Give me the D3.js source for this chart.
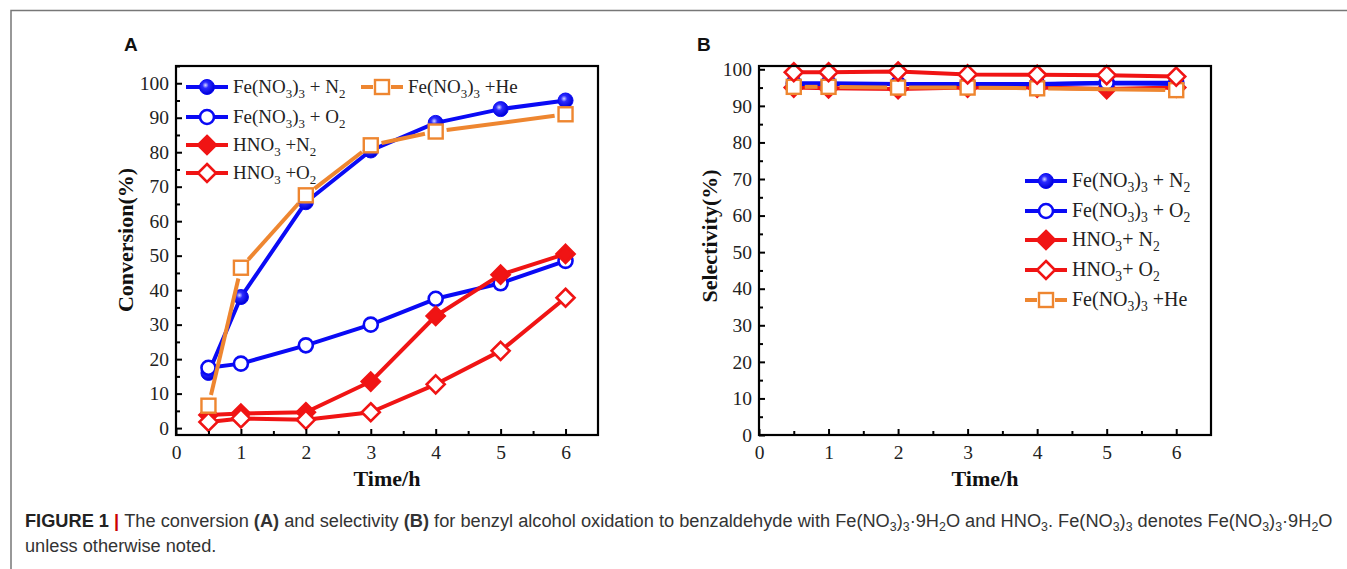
<!DOCTYPE html>
<html>
<head>
<meta charset="utf-8">
<script src="https://cdn.jsdelivr.net/npm/d3@7"></script>
<style>
  body { margin: 0; background: #fff; }
  svg { display: block; }
  .domain { display: none; }
</style>
</head>
<body>
<svg id="fig" width="1347" height="569"></svg>
<script>
// ---- data ----
var times = [0.5, 1, 2, 3, 4, 5, 6];
var timesHe = [0.5, 1, 2, 3, 4, 6];   // no He point at 5 h

// conversion (%) - panel A
var convFeN2  = [16, 38, 65.5, 80.5, 88.5, 92.5, 95];
var convFeO2  = [17.5, 18.7, 24, 30, 37.5, 42, 48.5];
var convHNO3N2 = [3.8, 4.2, 4.6, 13.5, 32.5, 44.5, 50.5];
var convHNO3O2 = [1.8, 2.8, 2.4, 4.6, 12.7, 22.4, 37.8];
var convFeHe  = [6.5, 46.5, 67.5, 82, 86, 91];

// selectivity (%) - panel B
var selFeN2  = [96, 96, 96, 96, 95.9, 96.2, 96];
var selFeO2  = [96.2, 96.2, 96, 96, 96, 96.3, 96.3];
var selHNO3N2 = [95, 94.8, 94.6, 95, 95, 94.6, 95];
var selHNO3O2 = [99.2, 99.2, 99.4, 98.6, 98.5, 98.4, 98.0];
var selFeHe  = [95.2, 95.2, 95.0, 95.0, 94.8, 94.3];

var yTicks = [0, 10, 20, 30, 40, 50, 60, 70, 80, 90, 100];
var xTicks = [0, 1, 2, 3, 4, 5, 6];

// series labels, "_x" = subscript
var labFeN2 = "Fe(NO_3)_3 + N_2";
var labFeO2 = "Fe(NO_3)_3 + O_2";
var labFeHe = "Fe(NO_3)_3 +He";

var BLUE = "#0a0af5", RED = "#f01414", ORANGE = "#ee8630";
var serif = "'Liberation Serif', 'Times New Roman', serif";

var svg = d3.select("#fig");
var defs = svg.append("defs");
var grad = defs.append("radialGradient").attr("id", "ballBlue")
    .attr("cx", "40%").attr("cy", "38%").attr("r", "60%");
grad.append("stop").attr("offset", "0%").attr("stop-color", "#d8d8ff");
grad.append("stop").attr("offset", "35%").attr("stop-color", "#2b2bff");
grad.append("stop").attr("offset", "100%").attr("stop-color", "#0000d8");

// outer frame of the figure
svg.append("rect").attr("x", 11).attr("y", 10.5).attr("width", 1400).attr("height", 700)
    .attr("fill", "none").attr("stroke", "#777").attr("stroke-width", 1.5);

function subText(sel, str, size, drop) {
    // split on "_d" and put the digit as subscript, next run goes back up
    var parts = str.split(/_(\d)/);
    var back = 0;
    drop = drop || 5;
    parts.forEach(function (p, i) {
        if (p === "") return;
        if (i % 2 === 1) {
            sel.append("tspan").attr("dy", drop).attr("font-size", size * 0.68).text(p);
            back = -drop;
        } else {
            var ts = sel.append("tspan").attr("font-size", size).text(p);
            if (back) { ts.attr("dy", back); back = 0; }
        }
    });
    return back;
}

function drawMarker(g, type, x, y) {
    if (type === "ball") {
        g.append("circle").attr("cx", x).attr("cy", y).attr("r", 7.5)
            .attr("fill", "url(#ballBlue)").attr("stroke", BLUE).attr("stroke-width", 1);
    } else if (type === "ring") {
        g.append("circle").attr("cx", x).attr("cy", y).attr("r", 7)
            .attr("fill", "#fff").attr("stroke", BLUE).attr("stroke-width", 2.6);
    } else if (type === "dia" || type === "diaOpen") {
        var s = 9;
        g.append("path").attr("d", "M" + x + "," + (y - s) + "L" + (x + s) + "," + y + "L" + x + "," + (y + s) + "L" + (x - s) + "," + y + "Z")
            .attr("fill", type === "dia" ? RED : "#fff").attr("stroke", RED).attr("stroke-width", 2.6);
    } else if (type === "sq") {
        g.append("rect").attr("x", x - 7).attr("y", y - 7).attr("width", 14).attr("height", 14)
            .attr("fill", "#fff").attr("stroke", ORANGE).attr("stroke-width", 2.4);
    }
}

function drawPanel(cfg) {
    var x = d3.scaleLinear().domain([0, 6.5]).range([cfg.left, cfg.right]);
    var y = d3.scaleLinear().domain(cfg.yDomain).range([435, 66]);
    var g = svg.append("g");

    // panel letter
    g.append("text").attr("x", cfg.letterX).attr("y", 51).text(cfg.letter)
        .attr("font-family", "'Liberation Sans', Arial, sans-serif").attr("font-weight", "bold")
        .attr("font-size", 19).attr("fill", "#111");

    // series
    cfg.series.forEach(function (s) {
        var pts = s.t.map(function (t, i) { return [x(t), y(s.v[i])]; });
        var sg = g.append("g");
        if (s.gap) {
            // Origin style: line broken around the markers
            for (var i = 0; i < pts.length - 1; i++) {
                var a = pts[i], b = pts[i + 1];
                var dx = b[0] - a[0], dy = b[1] - a[1], L = Math.sqrt(dx * dx + dy * dy);
                if (L < 2 * s.gap) continue;
                var ux = dx / L, uy = dy / L;
                sg.append("line")
                    .attr("x1", a[0] + ux * s.gap).attr("y1", a[1] + uy * s.gap)
                    .attr("x2", b[0] - ux * s.gap).attr("y2", b[1] - uy * s.gap)
                    .attr("stroke", s.color).attr("stroke-width", 4);
            }
        } else {
            sg.append("path").attr("d", d3.line()(pts)).attr("fill", "none")
                .attr("stroke", s.color).attr("stroke-width", 4).attr("stroke-linejoin", "round");
        }
        pts.forEach(function (p) { drawMarker(sg, s.marker, p[0], p[1]); });
    });

    // axes (ticks point inward)
    var yAxis = d3.axisLeft(y).tickValues(yTicks).tickSize(-6).tickPadding(7);
    g.append("g").attr("class", "ax").attr("transform", "translate(" + cfg.left + ",0)").call(yAxis);
    g.append("g").attr("transform", "translate(" + cfg.left + ",0)")
        .call(d3.axisLeft(y).tickValues(yTicks.map(function (d) { return d + 5; }).filter(function (d) { return d <= cfg.yDomain[1]; }))
            .tickSize(-4).tickFormat(""))
        .call(function (a) { a.selectAll("text").remove(); });
    var xAxis = d3.axisBottom(x).tickValues(xTicks).tickFormat(d3.format("d")).tickSize(-6).tickPadding(10);
    g.append("g").attr("class", "ax").attr("transform", "translate(0,435)").call(xAxis);
    g.append("g").attr("transform", "translate(0,435)")
        .call(d3.axisBottom(x).tickValues([0.5, 1.5, 2.5, 3.5, 4.5, 5.5]).tickSize(-4).tickFormat(""))
        .call(function (a) { a.selectAll("text").remove(); });
    g.selectAll(".tick line").attr("stroke", "#000").attr("stroke-width", 2);
    g.selectAll(".ax .tick text").attr("font-family", serif).attr("font-size", 19.5).attr("fill", "#222");

    // frame
    g.append("rect").attr("x", cfg.left).attr("y", 66).attr("width", cfg.right - cfg.left).attr("height", 435 - 66)
        .attr("fill", "none").attr("stroke", "#000").attr("stroke-width", 2.2);

    // axis titles
    g.append("text").attr("x", (cfg.left + cfg.right) / 2).attr("y", 486).attr("text-anchor", "middle")
        .attr("font-family", serif).attr("font-weight", "bold").attr("font-size", 22).attr("fill", "#111")
        .text("Time/h");
    g.append("text").attr("transform", "translate(" + cfg.yTitleX + "," + cfg.yTitleY + ") rotate(-90)")
        .attr("text-anchor", "middle").attr("font-family", serif).attr("font-weight", "bold")
        .attr("font-size", 22).attr("fill", "#111").text(cfg.yTitle);

    // legend
    cfg.legend.forEach(function (l) {
        var lg = g.append("g");
        if (l.gap) {
            lg.append("line").attr("x1", l.x).attr("x2", l.x + 12).attr("y1", l.y).attr("y2", l.y)
                .attr("stroke", l.color).attr("stroke-width", 4);
            lg.append("line").attr("x1", l.x + 30).attr("x2", l.x + 42).attr("y1", l.y).attr("y2", l.y)
                .attr("stroke", l.color).attr("stroke-width", 4);
        } else {
            lg.append("line").attr("x1", l.x).attr("x2", l.x + 42).attr("y1", l.y).attr("y2", l.y)
                .attr("stroke", l.color).attr("stroke-width", 4);
        }
        drawMarker(lg, l.marker, l.x + 21, l.y);
        var t = lg.append("text").attr("x", l.x + 47).attr("y", l.y + 6)
            .attr("font-family", serif).attr("font-size", cfg.legendSize).attr("fill", "#222");
        subText(t, l.text, cfg.legendSize);
    });
}

// ---- panel A ----
drawPanel({
    letter: "A", letterX: 124, left: 176, right: 598, yDomain: [-2, 105], yTitleX: 133, yTitleY: 240,
    yTitle: "Conversion(%)", legendSize: 19,
    series: [
        { t: times, v: convFeN2, color: BLUE, marker: "ball" },
        { t: times, v: convFeO2, color: BLUE, marker: "ring" },
        { t: times, v: convHNO3N2, color: RED, marker: "dia" },
        { t: times, v: convHNO3O2, color: RED, marker: "diaOpen" },
        { t: timesHe, v: convFeHe, color: ORANGE, marker: "sq", gap: 11 }
    ],
    legend: [
        { x: 186, y: 87, color: BLUE, marker: "ball", text: labFeN2 },
        { x: 186, y: 117, color: BLUE, marker: "ring", text: labFeO2 },
        { x: 186, y: 145, color: RED, marker: "dia", text: "HNO_3 +N_2" },
        { x: 186, y: 173, color: RED, marker: "diaOpen", text: "HNO_3 +O_2" },
        { x: 361, y: 87, color: ORANGE, marker: "sq", text: labFeHe, gap: true }
    ]
});

// ---- panel B ----
drawPanel({
    letter: "B", letterX: 697, left: 759, right: 1211, yDomain: [0, 100.9], yTitleX: 717, yTitleY: 236,
    yTitle: "Selectivity(%)", legendSize: 20,
    series: [
        { t: times, v: selHNO3N2, color: RED, marker: "dia" },
        { t: times, v: selFeN2, color: BLUE, marker: "ball" },
        { t: times, v: selFeO2, color: BLUE, marker: "ring" },
        { t: timesHe, v: selFeHe, color: ORANGE, marker: "sq", gap: 11 },
        { t: times, v: selHNO3O2, color: RED, marker: "diaOpen" }
    ],
    legend: [
        { x: 1025, y: 181, color: BLUE, marker: "ball", text: labFeN2 },
        { x: 1025, y: 211, color: BLUE, marker: "ring", text: labFeO2 },
        { x: 1025, y: 240, color: RED, marker: "dia", text: "HNO_3+ N_2" },
        { x: 1025, y: 270, color: RED, marker: "diaOpen", text: "HNO_3+ O_2" },
        { x: 1025, y: 300, color: ORANGE, marker: "sq", text: labFeHe, gap: true }
    ]
});

// ---- caption ----
var sans = "'Liberation Sans', Arial, sans-serif";
var capSize = 19;
var cap1 = svg.append("text").attr("x", 25).attr("y", 527).attr("font-family", sans)
    .attr("font-size", capSize).attr("fill", "#333");
cap1.append("tspan").attr("font-weight", "bold").attr("fill", "#222").text("FIGURE 1 ");
cap1.append("tspan").attr("font-weight", "bold").attr("fill", "#c00").text("| ");
var capParts = [
    ["The conversion ", 0], ["(A)", 1], [" and selectivity ", 0], ["(B)", 1],
    [" for benzyl alcohol oxidation to benzaldehyde with Fe(NO_3)_3\u00b79H_2O and HNO_3. Fe(NO_3)_3 denotes Fe(NO_3)_3\u00b79H_2O", 0]
];
capParts.forEach(function (p) {
    if (p[1]) cap1.append("tspan").attr("font-weight", "bold").attr("font-size", capSize).text(p[0]);
    else subText(cap1, p[0], capSize, 4);
});
var w1 = cap1.node().getComputedTextLength();
var k = 1308 / w1;
cap1.attr("transform", "translate(25,0) scale(" + k + ",1) translate(-25,0)");
svg.append("text").attr("x", 25).attr("y", 552).attr("font-family", sans)
    .attr("font-size", capSize).attr("fill", "#333")
    .attr("transform", "translate(25,0) scale(" + k + ",1) translate(-25,0)")
    .text("unless otherwise noted.");
</script>
</body>
</html>
